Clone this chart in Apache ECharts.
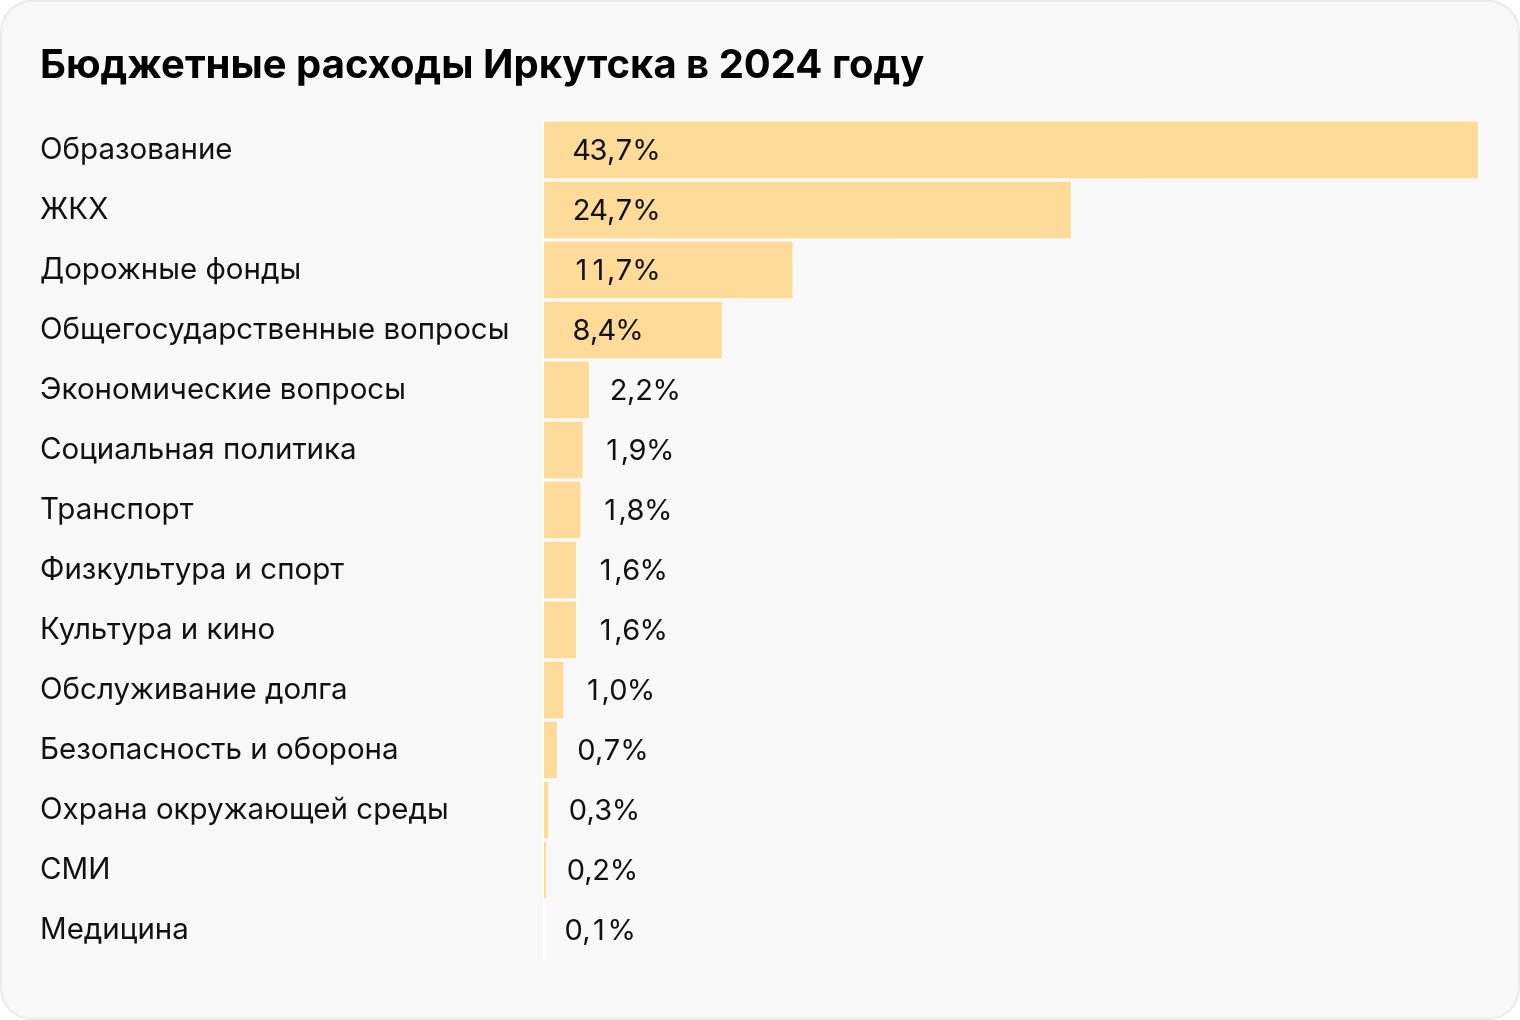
<!DOCTYPE html>
<html>
<head>
<meta charset="utf-8">
<script src="https://cdn.jsdelivr.net/npm/echarts@6/dist/echarts.min.js"></script>
<style>
html,body{margin:0;padding:0;background:#fff;}
#card{position:absolute;left:0;top:0;width:1516px;height:1016px;border:2px solid #ebebeb;border-radius:32px;background:#f8f8f8;}
#chart{position:absolute;left:0;top:0;width:1520px;height:1020px;}
</style>
</head>
<body>
<div id="card"></div>
<div id="chart"></div>
<script>
const titleText = 'Бюджетные расходы Иркутска в 2024 году';
const categories = ['Образование','ЖКХ','Дорожные фонды','Общегосударственные вопросы','Экономические вопросы','Социальная политика','Транспорт','Физкультура и спорт','Культура и кино','Обслуживание долга','Безопасность и оборона','Охрана окружающей среды','СМИ','Медицина'];
const values = [43.7,24.7,11.7,8.4,2.2,1.9,1.8,1.6,1.6,1.0,0.7,0.3,0.2,0.1];

const fontFam = 'Inter, Roboto, sans-serif';
const seriesData = values.map(v => ({
  value: v,
  label: v >= 5
    ? {position: 'insideLeft', distance: 30}
    : {position: 'right', distance: 20}
}));
const tStyle = {fontSize: 29, color: '#111', fontFamily: fontFam, align: 'center'};

const chart = echarts.init(document.getElementById('chart'), null, {renderer: 'canvas'});
chart.setOption({
  backgroundColor: 'transparent',
  animation: false,
  title: {
    text: titleText,
    left: 40, top: 46, padding: 0,
    textStyle: {fontFamily: 'Inter, Roboto, sans-serif', fontWeight: 'bold', fontSize: 40, color: '#000'}
  },
  grid: {left: 543, right: 41, top: 120, bottom: 60, containLabel: false},
  xAxis: {type: 'value', min: 0, max: 'dataMax', show: false},
  yAxis: {
    type: 'category', data: categories, inverse: true,
    axisLine: {show: false}, axisTick: {show: false}, splitLine: {show: false},
    axisLabel: {align: 'left', margin: 503, fontSize: 29.5, color: '#111', fontFamily: fontFam, padding: [6, 0, 0, 0]}
  },
  series: [{
    type: 'bar',
    data: seriesData,
    barCategoryGap: '2%',
    itemStyle: {color: '#FFDB9A', borderColor: '#ffffff', borderWidth: 1},
    label: {
      show: true, fontSize: 29, color: '#111', fontFamily: fontFam, offset: [0, 1],
      formatter: p => p.value.toFixed(1).replace('.', ',').split('').map(ch => /\d/.test(ch) ? '{d|' + ch + '}' : '{c|' + ch + '}').join('') + '{c|%}',
      rich: {
        d: Object.assign({}, tStyle, {width: 17}),
        c: Object.assign({}, tStyle)
      }
    }
  }]
});
</script>
</body>
</html>
